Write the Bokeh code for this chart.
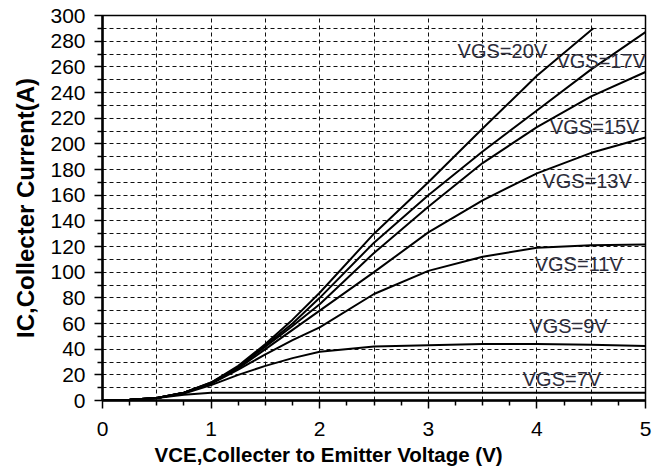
from bokeh.plotting import figure
from bokeh.models import Range1d, FixedTicker, ColumnDataSource, Title
from bokeh.core.properties import value
from bokeh.embed import file_html
from bokeh.resources import INLINE

# ---- data ----
vce = [0, 0.25, 0.5, 0.75, 1.0, 1.25, 1.5, 1.75, 2.0, 2.5, 3.0, 3.5, 4.0, 4.5, 5.0]
ic_7v = [0, 0.5, 2, 4.5, 6, 6, 6, 6, 6, 6, 6, 6, 6, 6, 6]
ic_9v = [0, 0.5, 2, 5.5, 12, 20, 27, 33, 38, 42, 43, 44, 44, 43.5, 42.5]
ic_11v = [0, 0.5, 2, 6, 13, 24, 36, 47, 57, 83, 101, 112, 119, 121, 121.5]
ic_13v = [0, 0.5, 2, 6, 13.5, 25, 40, 55, 70, 100, 131, 156, 177, 193, 205]
ic_15v = [0, 0.5, 2, 6, 13.5, 26, 42, 58, 75, 115, 151, 185, 213, 237, 256]
ic_17v = [0, 0.5, 2, 6, 14, 26, 43, 60, 80, 123, 160, 194, 226, 258, 287]
vce_20v = [0, 0.25, 0.5, 0.75, 1.0, 1.25, 1.5, 1.75, 2.0, 2.5, 3.0, 3.5, 4.0, 4.52]
ic_20v = [0, 0.5, 2, 6, 14, 27, 44, 63, 84, 130, 170, 212, 253, 290]

curve_labels = ["VGS=20V", "VGS=17V", "VGS=15V", "VGS=13V", "VGS=11V", "VGS=9V", "VGS=7V"]
label_vce = [3.27, 4.18, 4.12, 4.05, 3.98, 3.93, 3.87]
label_ic = [272.6, 264.8, 213, 171.4, 106.6, 58, 17]

x_ticks = [0, 1, 2, 3, 4, 5]
x_minor = [0.25, 0.5, 0.75, 1.25, 1.5, 1.75, 2.25, 2.5, 2.75, 3.25, 3.5, 3.75, 4.25, 4.5, 4.75]
x_grid = [0.5, 1, 1.5, 2, 2.5, 3, 3.5, 4, 4.5]
y_ticks = list(range(0, 301, 20))
y_minor = list(range(10, 300, 20))
y_grid = list(range(10, 300, 10))

FONT = "Liberation Sans"

p = figure(width=662, height=467, output_backend="svg", toolbar_location=None,
           x_range=Range1d(0, 5), y_range=Range1d(0, 300),
           min_border_left=102, min_border_right=17, min_border_top=15, min_border_bottom=20)
p.background_fill_color = "white"
p.border_fill_color = "white"
p.outline_line_color = "black"
p.outline_line_width = 1.5

# axes
p.xaxis.ticker = FixedTicker(ticks=x_ticks, minor_ticks=x_minor)
p.yaxis.ticker = FixedTicker(ticks=y_ticks, minor_ticks=y_minor)
for ax in (p.xaxis, p.yaxis):
    ax.axis_line_width = 2.5
    ax.axis_line_color = "black"
    ax.major_tick_line_color = "black"
    ax.major_tick_line_width = 1.5
    ax.minor_tick_line_color = "black"
    ax.minor_tick_line_width = 1.5
    ax.major_tick_in = 0
    ax.major_tick_out = 8
    ax.minor_tick_in = 0
    ax.minor_tick_out = 5
    ax.major_label_text_font = FONT
    ax.major_label_text_font_size = "21px"
    ax.major_label_text_color = "black"
p.xaxis.major_label_standoff = 13
p.yaxis.major_label_standoff = 9

p.yaxis.axis_label = "IC,Collecter Current(A)"
p.yaxis.axis_label_text_font = FONT
p.yaxis.axis_label_text_font_style = "bold"
p.yaxis.axis_label_text_font_size = "24px"
p.yaxis.axis_label_text_color = "black"
p.yaxis.axis_label_standoff = 8

xtitle = Title(text="VCE,Collecter to Emitter Voltage (V)", align="left", offset=52,
               text_font=FONT, text_font_style="bold", text_font_size="20.5px",
               text_color="black", standoff=4)
p.add_layout(xtitle, "below")

# grids
p.xgrid.ticker = FixedTicker(ticks=x_grid)
p.ygrid.ticker = FixedTicker(ticks=y_grid)
for g in (p.xgrid, p.ygrid):
    g.grid_line_color = "#111111"
    g.grid_line_dash = "4 3"
    g.grid_line_width = 1

# curves
for xs, ys in [(vce, ic_7v), (vce, ic_9v), (vce, ic_11v), (vce, ic_13v),
               (vce, ic_15v), (vce, ic_17v), (vce_20v, ic_20v)]:
    p.line(xs, ys, line_color="black", line_width=2)

# curve labels
src = ColumnDataSource(dict(x=label_vce, y=label_ic, t=curve_labels))
p.text(x="x", y="y", text="t", source=src, text_font=value(FONT),
       text_font_size="20px", text_color="#2e2e3c", text_align="left",
       text_baseline="middle")

open("out.html", "w").write(file_html(p, INLINE))
